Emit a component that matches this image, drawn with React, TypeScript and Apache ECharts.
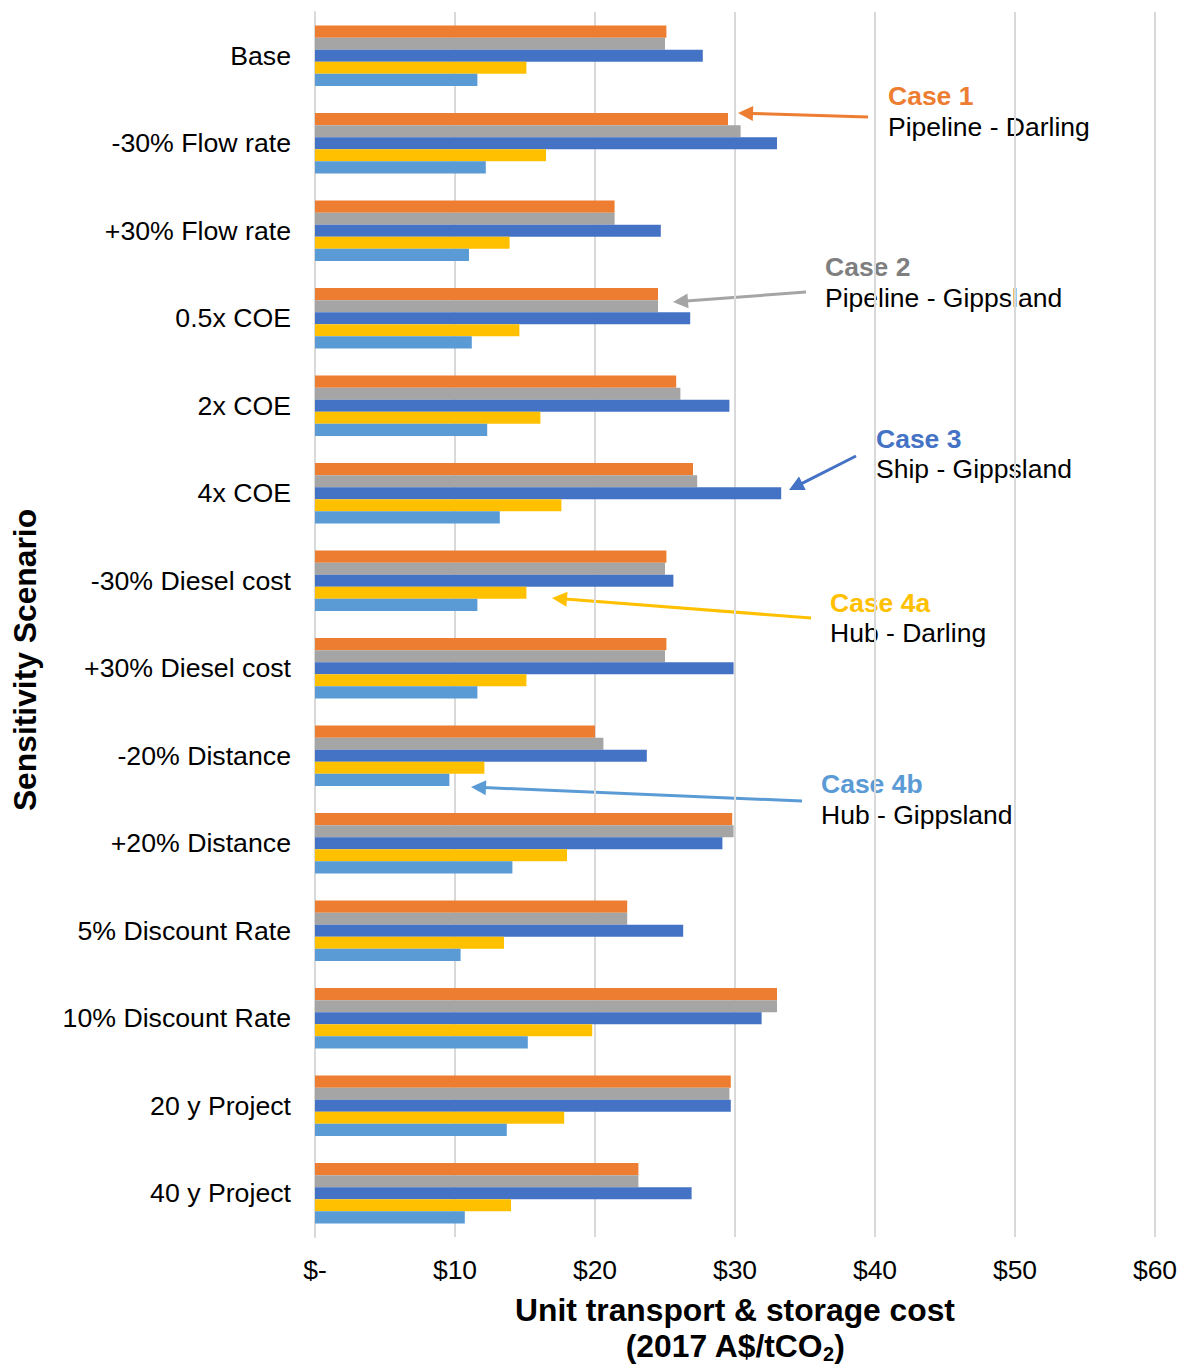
import React, { useEffect, useRef } from "react";
import * as echarts from "echarts";

const categories = [
  "Base",
  "-30% Flow rate",
  "+30% Flow rate",
  "0.5x COE",
  "2x COE",
  "4x COE",
  "-30% Diesel cost",
  "+30% Diesel cost",
  "-20% Distance",
  "+20% Distance",
  "5% Discount Rate",
  "10% Discount Rate",
  "20 y Project",
  "40 y Project",
];

const seriesNames = ["Case 1", "Case 2", "Case 3", "Case 4a", "Case 4b"];
const case1 = [25.1, 29.5, 21.4, 24.5, 25.8, 27.0, 25.1, 25.1, 20.0, 29.8, 22.3, 33.0, 29.7, 23.1];
const case2 = [25.0, 30.4, 21.4, 24.5, 26.1, 27.3, 25.0, 25.0, 20.6, 29.9, 22.3, 33.0, 29.6, 23.1];
const case3 = [27.7, 33.0, 24.7, 26.8, 29.6, 33.3, 25.6, 29.9, 23.7, 29.1, 26.3, 31.9, 29.7, 26.9];
const case4a = [15.1, 16.5, 13.9, 14.6, 16.1, 17.6, 15.1, 15.1, 12.1, 18.0, 13.5, 19.8, 17.8, 14.0];
const case4b = [11.6, 12.2, 11.0, 11.2, 12.3, 13.2, 11.6, 11.6, 9.6, 14.1, 10.4, 15.2, 13.7, 10.7];
const seriesData = [case1, case2, case3, case4a, case4b];
const seriesColors = ["#ED7D31", "#A5A5A5", "#4472C4", "#FFC000", "#5B9BD5"];

const xMin = 0;
const xMax = 60;
const xInterval = 10;

const annotationTitles = ["Case 1", "Case 2", "Case 3", "Case 4a", "Case 4b"];
const annotationSubs = [
  "Pipeline - Darling",
  "Pipeline - Gippsland",
  "Ship - Gippsland",
  "Hub - Darling",
  "Hub - Gippsland",
];
const annotationTitleColors = ["#ED7D31", "#7F7F7F", "#4472C4", "#FFC000", "#5B9BD5"];
const annotationArrowColors = ["#ED7D31", "#A5A5A5", "#4472C4", "#FFC000", "#5B9BD5"];

const FONT = "'Liberation Sans', Arial, Helvetica, sans-serif";

// annotation layout (pixel positions of text blocks and arrows)
const annoText = [
  { x: 888, y1: 96, y2: 127 },
  { x: 825, y1: 267, y2: 298 },
  { x: 876, y1: 439, y2: 469 },
  { x: 830, y1: 603, y2: 633 },
  { x: 821, y1: 784, y2: 815 },
];
const annoArrow = [
  { from: [868, 117], to: [738, 113] },
  { from: [806, 292], to: [673, 302] },
  { from: [856, 456], to: [789, 490] },
  { from: [811, 618], to: [552, 598] },
  { from: [802, 801], to: [471, 787] },
];

function buildGraphics() {
  const els: any[] = [];
  els.push({
    type: "text",
    x: 25,
    y: 660,
    rotation: Math.PI / 2,
    style: {
      text: "Sensitivity Scenario",
      fill: "#000",
      fontSize: 31.8,
      fontWeight: "bold",
      fontFamily: FONT,
      align: "center",
      verticalAlign: "middle",
    },
  });
  for (let i = 0; i < annotationTitles.length; i++) {
    const t = annoText[i];
    els.push({
      type: "text",
      x: t.x,
      y: t.y1,
      style: {
        text: annotationTitles[i],
        fill: annotationTitleColors[i],
        fontSize: 26.5,
        fontWeight: "bold",
        fontFamily: FONT,
        align: "left",
        verticalAlign: "middle",
      },
    });
    els.push({
      type: "text",
      x: t.x,
      y: t.y2,
      style: {
        text: annotationSubs[i],
        fill: "#000",
        fontSize: 26.5,
        fontFamily: FONT,
        align: "left",
        verticalAlign: "middle",
      },
    });
    const a = annoArrow[i];
    const dx = a.to[0] - a.from[0];
    const dy = a.to[1] - a.from[1];
    const len = Math.sqrt(dx * dx + dy * dy);
    const ux = dx / len;
    const uy = dy / len;
    const nx = -uy;
    const ny = ux;
    const L = 15;
    const W = 7.5;
    const bx = a.to[0] - ux * L;
    const by = a.to[1] - uy * L;
    els.push({
      type: "line",
      shape: { x1: a.from[0], y1: a.from[1], x2: bx + ux * 2, y2: by + uy * 2 },
      style: { stroke: annotationArrowColors[i], lineWidth: 3 },
    });
    els.push({
      type: "polygon",
      shape: {
        points: [
          [a.to[0], a.to[1]],
          [bx + nx * W, by + ny * W],
          [bx - nx * W, by - ny * W],
        ],
      },
      style: { fill: annotationArrowColors[i] },
    });
  }
  return els;
}

export default function App() {
  const ref = useRef<HTMLDivElement>(null);
  useEffect(() => {
    if (!ref.current) return;
    const chart = echarts.init(ref.current, undefined, { renderer: "svg" });
    const option: any = {
      animation: false,
      backgroundColor: "#fff",
      grid: { left: 315, width: 840, top: 12, height: 1229, containLabel: false },
      xAxis: {
        type: "value",
        min: xMin,
        max: xMax,
        interval: xInterval,
        axisLine: { show: false },
        axisTick: { show: false },
        splitLine: { show: true, lineStyle: { color: "#D9D9D9", width: 2 } },
        axisLabel: {
          fontSize: 26.5,
          color: "#000",
          fontFamily: FONT,
          margin: 19,
          formatter: (v: number) => (v === 0 ? "$-" : "$" + v),
        },
        name:
          "{b|Unit transport & storage cost}\n{b|(2017 A$/tCO}{s|2}{b|)}",
        nameLocation: "middle",
        nameGap: 55,
        nameTextStyle: {
          rich: {
            b: { fontSize: 31.8, fontWeight: "bold", fontFamily: FONT, color: "#000", lineHeight: 36 },
            s: {
              fontSize: 20,
              fontWeight: "bold",
              fontFamily: FONT,
              color: "#000",
              lineHeight: 20,
              verticalAlign: "bottom",
            },
          },
        },
      },
      yAxis: {
        type: "category",
        data: categories,
        inverse: true,
        axisLine: { show: true, lineStyle: { color: "#D9D9D9", width: 2 } },
        axisTick: { show: false },
        splitLine: { show: false },
        axisLabel: { fontSize: 26.7, color: "#000", fontFamily: FONT, margin: 24 },
      },
      series: seriesNames.map((n, i) => ({
        name: n,
        type: "bar",
        data: seriesData[i],
        itemStyle: { color: seriesColors[i] },
        barGap: "0%",
        barCategoryGap: "31%",
      })),
      graphic: buildGraphics(),
    };
    chart.setOption(option);
    return () => chart.dispose();
  }, []);
  return (
    <div
      ref={ref}
      style={{ position: "fixed", left: 0, top: 0, width: 1182, height: 1369, background: "#fff" }}
    />
  );
}
